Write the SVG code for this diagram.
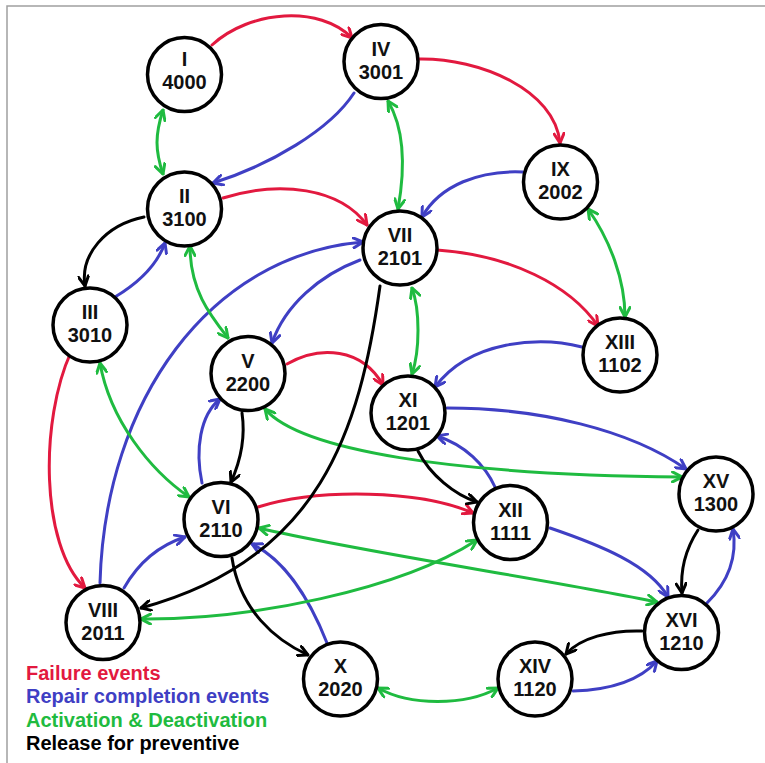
<svg xmlns="http://www.w3.org/2000/svg" width="765" height="763" viewBox="0 0 765 763">
<style>
.frame{stroke:#a0a0a0;stroke-width:1.5;fill:none}
.e{fill:none;stroke-width:3;stroke-linecap:round}
.r{stroke:#e2193f}
.b{stroke:#3f3fc4}
.g{stroke:#1fbb40}
.k{stroke:#000}
.r{marker-end:url(#mr)}
.b{marker-end:url(#mb)}
.g{marker-end:url(#mg);marker-start:url(#mg)}
.k{marker-end:url(#mk)}
.node circle{fill:#fff;stroke:#000;stroke-width:3.5}
.node text{font-family:"Liberation Sans",Arial,sans-serif;font-weight:bold;font-size:20px;text-anchor:middle;fill:#111}
.leg{font-family:"Liberation Sans",Arial,sans-serif;font-weight:bold;font-size:20px}
</style>
<defs>
<marker id="mr" viewBox="0 0 12 12" refX="11" refY="6" markerWidth="12" markerHeight="12" markerUnits="userSpaceOnUse" orient="auto-start-reverse"><path d="M1.5,1 L11,6 L1.5,11" fill="none" stroke="#e2193f" stroke-width="3" stroke-linecap="round"/></marker>
<marker id="mb" viewBox="0 0 12 12" refX="11" refY="6" markerWidth="12" markerHeight="12" markerUnits="userSpaceOnUse" orient="auto-start-reverse"><path d="M1.5,1 L11,6 L1.5,11" fill="none" stroke="#3f3fc4" stroke-width="3" stroke-linecap="round"/></marker>
<marker id="mg" viewBox="0 0 12 12" refX="11" refY="6" markerWidth="12" markerHeight="12" markerUnits="userSpaceOnUse" orient="auto-start-reverse"><path d="M1.5,1 L11,6 L1.5,11" fill="none" stroke="#1fbb40" stroke-width="3" stroke-linecap="round"/></marker>
<marker id="mk" viewBox="0 0 12 12" refX="11" refY="6" markerWidth="12" markerHeight="12" markerUnits="userSpaceOnUse" orient="auto-start-reverse"><path d="M1.5,1 L11,6 L1.5,11" fill="none" stroke="#000" stroke-width="3" stroke-linecap="round"/></marker>
</defs>
<rect width="765" height="763" fill="#fff"/>
<path class="frame" d="M7,763 L7,6 L765,6"/>
<g id="connectors">
<!-- failure -->
<path class="e r" d="M212,45 C250,10 320,5 352,38"/>
<path class="e r" d="M419,59 C480,58 555,90 560,143"/>
<path class="e r" d="M223,198 C280,180 340,188 367,225"/>
<path class="e r" d="M437,250 C510,255 570,285 598,326"/>
<path class="e r" d="M287,364 C320,345 362,348 383,385"/>
<path class="e r" d="M258,507 C320,488 420,490 473,513"/>
<path class="e r" d="M71,352 C40,420 40,545 85,588"/>
<!-- repair -->
<path class="e b" d="M354,93 C330,130 270,165 213,183"/>
<path class="e b" d="M523,172 C480,170 440,185 422,217"/>
<path class="e b" d="M115,297 C140,282 157,265 165,243"/>
<path class="e b" d="M100,583 C105,400 210,255 363,242"/>
<path class="e b" d="M360,260 C320,275 285,305 272,343"/>
<path class="e b" d="M582,347 C540,336 470,340 435,387"/>
<path class="e b" d="M447,408 C540,408 630,430 686,469"/>
<path class="e b" d="M495,487 C485,465 465,445 437,436"/>
<path class="e b" d="M202,483 C195,450 200,415 220,399"/>
<path class="e b" d="M124,588 C140,560 160,545 185,537"/>
<path class="e b" d="M327,643 C310,600 285,560 252,544"/>
<path class="e b" d="M550,528 C600,545 650,565 668,597"/>
<path class="e b" d="M573,691 C610,690 640,680 657,661"/>
<path class="e b" d="M707,603 C725,585 738,560 733,529"/>
<!-- activation -->
<path class="e g" d="M163,110 C155,135 155,150 163,174"/>
<path class="e g" d="M388,101 C405,130 405,170 398,209"/>
<path class="e g" d="M588,209 C610,240 625,280 625,317"/>
<path class="e g" d="M190,246 C190,290 210,315 228,338"/>
<path class="e g" d="M412,288 C420,310 420,350 412,374"/>
<path class="e g" d="M100,363 C110,420 150,470 189,497"/>
<path class="e g" d="M265,409 C300,450 450,475 682,477"/>
<path class="e g" d="M259,528 C350,550 550,580 657,602"/>
<path class="e g" d="M141,619 C250,620 400,590 477,540"/>
<path class="e g" d="M378,688 C410,706 465,706 498,688"/>
<!-- release -->
<path class="e k" d="M144,217 C105,225 80,255 85,286"/>
<path class="e k" d="M380,286 C360,430 320,560 141,608"/>
<path class="e k" d="M242,413 C246,440 240,462 231,482"/>
<path class="e k" d="M418,451 C430,475 455,495 477,502"/>
<path class="e k" d="M232,558 C240,610 275,640 308,655"/>
<path class="e k" d="M698,530 C685,550 680,570 682,593"/>
<path class="e k" d="M642,631 C610,630 580,638 566,654"/>
</g>
<g id="n1" class="node"><circle cx="184.5" cy="74.5" r="37"/><text x="184.5" y="66">I</text><text x="184.5" y="89">4000</text></g>
<g id="n4" class="node"><circle cx="381" cy="61.5" r="37"/><text x="381" y="55.5">IV</text><text x="381" y="78.5">3001</text></g>
<g id="n2" class="node"><circle cx="184.5" cy="209" r="37"/><text x="184.5" y="203">II</text><text x="184.5" y="226">3100</text></g>
<g id="n9" class="node"><circle cx="560.5" cy="182" r="37"/><text x="560.5" y="176">IX</text><text x="560.5" y="199">2002</text></g>
<g id="n7" class="node"><circle cx="400" cy="248" r="37"/><text x="400" y="242">VII</text><text x="400" y="265">2101</text></g>
<g id="n3" class="node"><circle cx="90" cy="325" r="37"/><text x="90" y="319">III</text><text x="90" y="342">3010</text></g>
<g id="n5" class="node"><circle cx="248" cy="373.5" r="37"/><text x="248" y="367.5">V</text><text x="248" y="390.5">2200</text></g>
<g id="n13" class="node"><circle cx="620" cy="355" r="37"/><text x="620" y="349">XIII</text><text x="620" y="372">1102</text></g>
<g id="n11" class="node"><circle cx="408" cy="413" r="37"/><text x="408" y="407">XI</text><text x="408" y="430">1201</text></g>
<g id="n15" class="node"><circle cx="716" cy="494" r="37"/><text x="716" y="488">XV</text><text x="716" y="511">1300</text></g>
<g id="n12" class="node"><circle cx="510.5" cy="522.5" r="37"/><text x="510.5" y="516.5">XII</text><text x="510.5" y="539.5">1111</text></g>
<g id="n6" class="node"><circle cx="221" cy="519.5" r="37"/><text x="221" y="513.5">VI</text><text x="221" y="536.5">2110</text></g>
<g id="n8" class="node"><circle cx="103" cy="622.5" r="37"/><text x="103" y="616.5">VIII</text><text x="103" y="639.5">2011</text></g>
<g id="n10" class="node"><circle cx="340.5" cy="679" r="37"/><text x="340.5" y="673">X</text><text x="340.5" y="696">2020</text></g>
<g id="n14" class="node"><circle cx="535" cy="679" r="37"/><text x="535" y="673">XIV</text><text x="535" y="696">1120</text></g>
<g id="n16" class="node"><circle cx="681.5" cy="632.5" r="37"/><text x="681.5" y="626.5">XVI</text><text x="681.5" y="649.5">1210</text></g>
<g id="legend">
<text class="leg" x="26" y="680" fill="#e2193f">Failure events</text>
<text class="leg" x="26" y="703" fill="#3f3fc4">Repair completion events</text>
<text class="leg" x="26" y="727" fill="#1fbb40">Activation &amp; Deactivation</text>
<text class="leg" x="26" y="750" fill="#000">Release for preventive</text>
</g>
</svg>
